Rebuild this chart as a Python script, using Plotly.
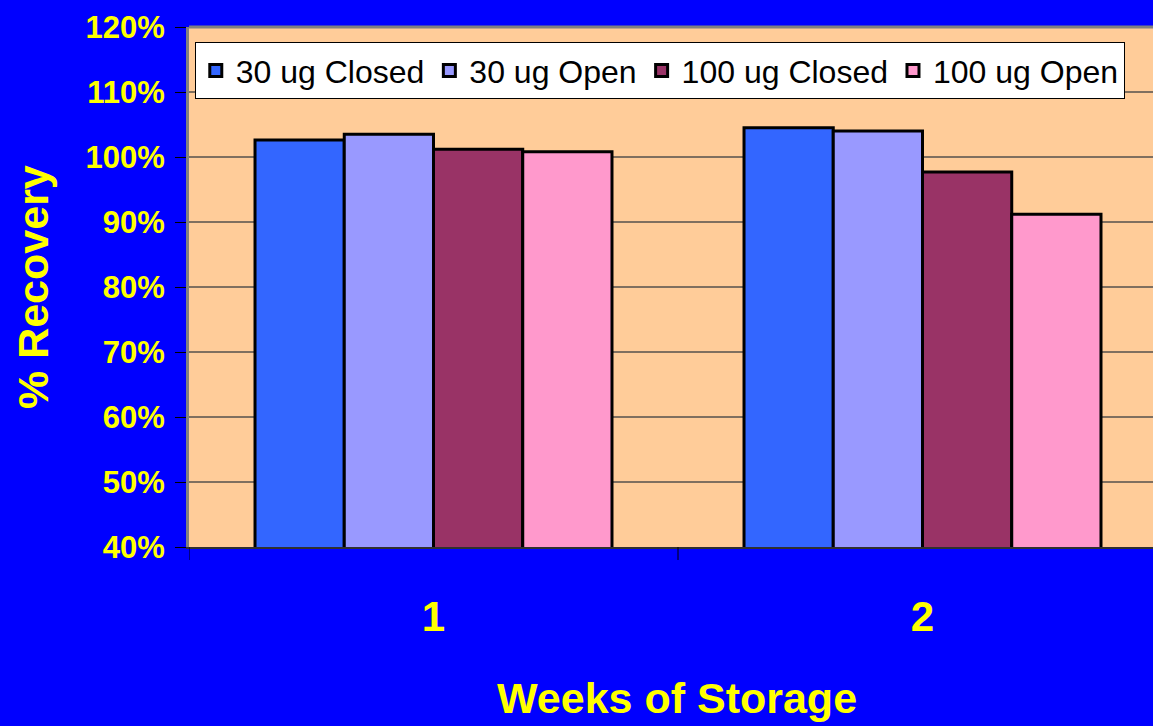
import plotly.graph_objects as go

weeks = ["1", "2"]
series_names = ["30 ug Closed", "30 ug Open", "100 ug Closed", "100 ug Open"]
closed_30 = [102.6, 104.5]
open_30 = [103.5, 104.0]
closed_100 = [101.2, 97.7]
open_100 = [100.8, 91.2]
y_ticks = [40, 50, 60, 70, 80, 90, 100, 110, 120]
y_tick_labels = [f"{v}%" for v in y_ticks]

colors = ["#3366FF", "#9999FF", "#993366", "#FF99CC"]
font_family = "Arial, Liberation Sans, sans-serif"

fig = go.Figure()
for name, values, color in zip(series_names, [closed_30, open_30, closed_100, open_100], colors):
    fig.add_trace(
        go.Bar(
            x=weeks,
            y=values,
            name=name,
            marker=dict(color=color, line=dict(color="black", width=3)),
        )
    )

fig.update_layout(
    width=1153,
    height=726,
    margin=dict(l=189, r=0, t=27, b=179),
    paper_bgcolor="#0000FF",
    plot_bgcolor="#FFCC99",
    barmode="group",
    bargap=0.27,
    bargroupgap=0,
    font=dict(family=font_family, color="#FFFF00"),
    showlegend=True,
    legend=dict(
        orientation="h",
        x=0.006,
        y=0.971,
        xanchor="left",
        yanchor="top",
        bgcolor="white",
        bordercolor="black",
        borderwidth=1,
        font=dict(family=font_family, size=32, color="black"),
        traceorder="normal",
    ),
    xaxis=dict(
        type="category",
        range=[-0.5, 1.5 - 14 / 489],
        ticks="",
        showline=True,
        linecolor="#303030",
        linewidth=1.5,
        tickfont=dict(size=42, color="#FFFF00", family=font_family, weight="bold"),
        ticklabelstandoff=32,
        showgrid=False,
    ),
    yaxis=dict(
        range=[40, 120],
        tickmode="array",
        tickvals=y_ticks,
        ticktext=y_tick_labels,
        ticks="outside",
        ticklen=11,
        tickcolor="black",
        tickwidth=1,
        ticklabelstandoff=4,
        showline=True,
        linecolor="#808080",
        linewidth=3,
        showgrid=True,
        gridcolor="#7f6f5f",
        gridwidth=1.5,
        zeroline=False,
        tickfont=dict(size=31, color="#FFFF00", family=font_family, weight="bold"),
    ),
    annotations=[
        dict(
            text="<b>Weeks of Storage</b>",
            xref="paper", yref="paper",
            x=0.506, y=-0.2904,
            xanchor="center", yanchor="middle",
            showarrow=False,
            font=dict(size=43, color="#FFFF00", family=font_family),
        ),
        dict(
            text="<b>% Recovery</b>",
            xref="paper", yref="paper",
            x=-0.1618, y=0.5,
            xanchor="center", yanchor="middle",
            textangle=-90,
            showarrow=False,
            font=dict(size=43, color="#FFFF00", family=font_family),
        ),
    ],
)

# gray top edge of the plot area
fig.add_shape(
    type="line", xref="paper", yref="paper",
    x0=0, x1=1, y0=1, y1=1,
    line=dict(color="#808080", width=3),
)
# tick marks at the category boundaries
for boundary in [-0.5, 0.5]:
    fig.add_shape(
        type="line", xref="x", yref="paper",
        x0=boundary, x1=boundary, y0=0, y1=-0.025,
        line=dict(color="black", width=1),
    )

fig.write_html(
    "out.html",
    config={"displayModeBar": False},
    post_script="document.body.style.margin='0';",
)
